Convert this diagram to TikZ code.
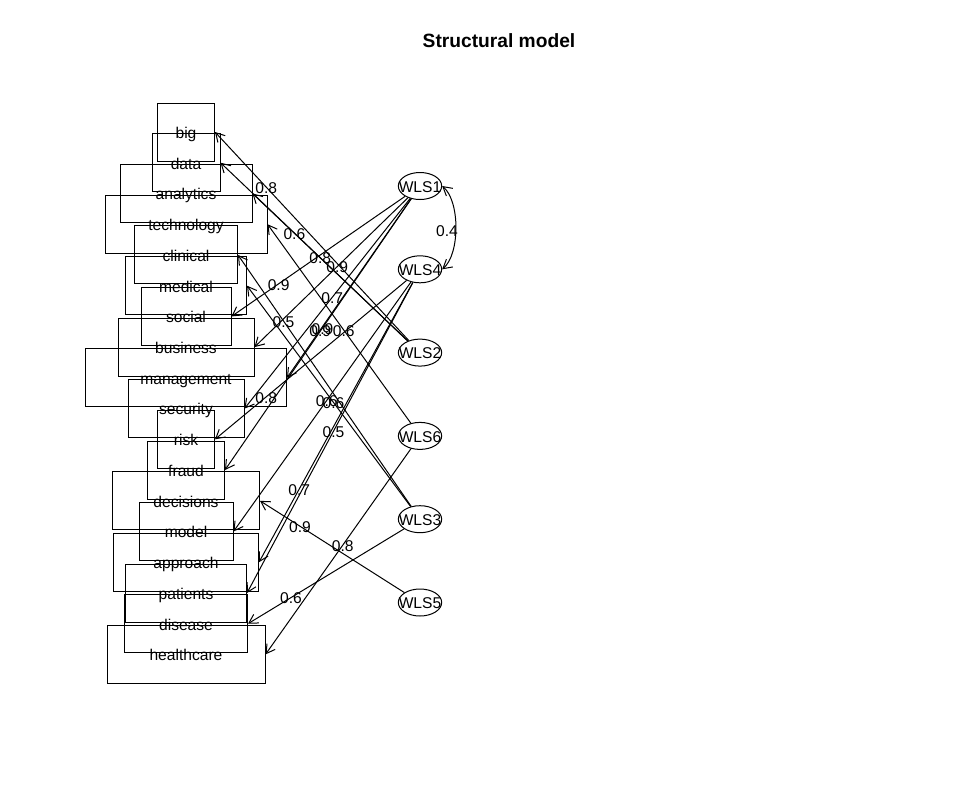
\documentclass[tikz,border=0pt]{standalone}
\usepackage{fontspec}
\setmainfont{Liberation Sans}
\usetikzlibrary{arrows.meta,calc,shapes.geometric}
\begin{document}
\begin{tikzpicture}[x=0.75pt,y=-0.75pt,
  txt/.style={font=\fontsize{11.7}{14}\selectfont, text height=0.95em, text depth=0pt, inner sep=0pt},
  wordbox/.style={txt, draw, rectangle, minimum height=43.5pt, line width=0.75pt},
  factor/.style={draw, ellipse, inner sep=0pt, minimum width=32.5pt, minimum height=20.25pt, line width=0.75pt},
  load/.style={line width=0.75pt, -{Straight Barb[length=6.5pt,width=7.5pt]}},
  corr/.style={line width=0.75pt, {Straight Barb[length=6.5pt,width=7.5pt]}-{Straight Barb[length=6.5pt,width=7.5pt]}},
]
% canvas
\fill[white] (0,0) rectangle (960,807);
\useasboundingbox (0,0) rectangle (960,807);

% title
\node[txt, font=\fontsize{14.4}{17}\selectfont\bfseries] (title) at (499,41) {Structural model};

% observed variables (boxes)
\node[wordbox, minimum width=42.75pt]  (big)         at (186,132.0) {big};
\node[wordbox, minimum width=51pt]     (data)        at (186,162.7) {data};
\node[wordbox, minimum width=99pt]     (analytics)   at (186,193.5) {analytics};
\node[wordbox, minimum width=121.5pt]  (technology)  at (186,224.2) {technology};
\node[wordbox, minimum width=77.25pt]  (clinical)    at (186,254.9) {clinical};
\node[wordbox, minimum width=90.75pt]  (medical)     at (186,285.7) {medical};
\node[wordbox, minimum width=67.5pt]   (social)      at (186,316.4) {social};
\node[wordbox, minimum width=102pt]    (business)    at (186,347.1) {business};
\node[wordbox, minimum width=150.75pt] (management)  at (186,377.8) {management};
\node[wordbox, minimum width=87pt]     (security)    at (186,408.6) {security};
\node[wordbox, minimum width=42.75pt]  (risk)        at (186,439.3) {risk};
\node[wordbox, minimum width=57.75pt]  (fraud)       at (186,470.0) {fraud};
\node[wordbox, minimum width=110.25pt] (decisions)   at (186,500.8) {decisions};
\node[wordbox, minimum width=70.5pt]   (model)       at (186,531.5) {model};
\node[wordbox, minimum width=108.75pt] (approach)    at (186,562.2) {approach};
\node[wordbox, minimum width=90.75pt]  (patients)    at (186,593.0) {patients};
\node[wordbox, minimum width=92.25pt]  (disease)     at (186,623.7) {disease};
\node[wordbox, minimum width=118.5pt]  (healthcare)  at (186,654.4) {healthcare};

% latent factors (ellipses with their names)
\foreach \f/\y in {WLS1/186, WLS4/269.3, WLS2/352.6, WLS6/435.9, WLS3/519.2, WLS5/602.5} {
  \node[factor] (\f) at (420,\y) {};
  \node[txt] (\f-name) at (\f.center) {\f};
}

% loadings: arrow from factor to box, label at the given fraction of the way
\foreach \f/\v/\p/\w in {
  WLS2/big/0.75/0.8,
  WLS2/data/0.5/0.8,
  WLS2/analytics/0.75/0.6,
  WLS6/technology/0.5/0.6,
  WLS3/clinical/0.75/0.5,
  WLS3/medical/0.5/0.6,
  WLS1/social/0.75/0.9,
  WLS1/business/0.5/0.9,
  WLS1/management/0.75/0.9,
  WLS1/security/0.5/0.7,
  WLS4/risk/0.75/0.8,
  WLS1/fraud/0.5/0.9,
  WLS5/decisions/0.75/0.9,
  WLS4/model/0.5/0.6,
  WLS4/approach/0.75/0.7,
  WLS4/patients/0.5/0.5,
  WLS3/disease/0.75/0.6,
  WLS6/healthcare/0.5/0.8} {
  \draw[load] (\f) -- (\v.east);
  \node[txt] (\f-\v-w) at ($(\f.center)!\p!(\v.east)$) {\w};
}

% factor correlation
\draw[corr] (WLS1.east) .. controls +(18,15) and +(18,-15) .. (WLS4.east);
\node[txt] (r14) at (447,230) {0.4};
\end{tikzpicture}
\end{document}
